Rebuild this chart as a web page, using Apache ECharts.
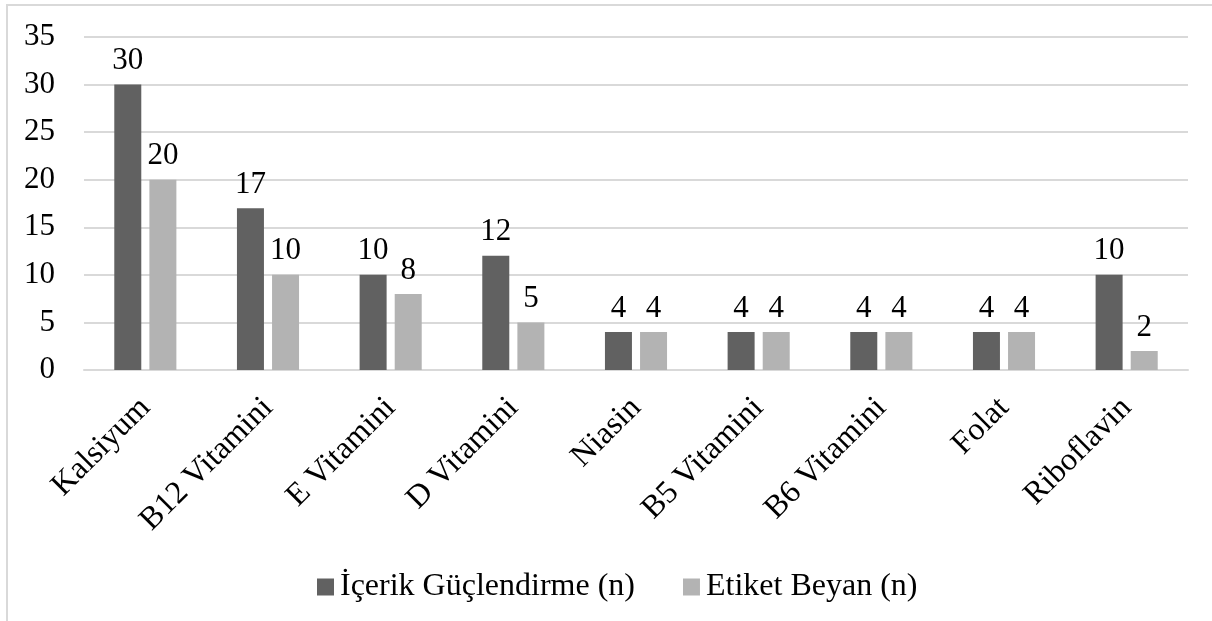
<!DOCTYPE html>
<html>
<head>
<meta charset="utf-8">
<script src="https://cdn.jsdelivr.net/npm/echarts@6/dist/echarts.min.js"></script>
<style>
  html, body { margin: 0; padding: 0; background: #fff; }
  #wrap { position: relative; width: 1212px; height: 621px; overflow: hidden; }
  #frame { position: absolute; left: 6px; top: 4px; right: -10px; bottom: -10px;
           border-left: 2px solid #d9d9d9; border-top: 2px solid #d9d9d9; pointer-events: none; }
  #main { position: absolute; left: 0; top: 0; width: 1212px; height: 621px; }
</style>
</head>
<body>
<div id="wrap">
  <div id="main"></div>
  <div id="frame"></div>
</div>
<script>
// kategoriler ve seriler
const categories = ['Kalsiyum', 'B12 Vitamini', 'E Vitamini', 'D Vitamini', 'Niasin',
  'B5 Vitamini', 'B6 Vitamini', 'Folat', 'Riboflavin'];
const icerikGuclendirme = [30, 17, 10, 12, 4, 4, 4, 4, 10];
const etiketBeyan = [20, 10, 8, 5, 4, 4, 4, 4, 2];
const seriesNames = ['İçerik Güçlendirme (n)', 'Etiket Beyan (n)'];

const font = '"Liberation Serif", "DejaVu Serif", serif';

var myChart = echarts.init(document.getElementById('main'));

const option = {
  animation: false,
  textStyle: { fontFamily: font, color: '#000' },
  grid: { left: 84, right: 24, top: 37, bottom: 251, containLabel: false },
  legend: {
    top: 566,
    left: 312,
    itemWidth: 17,
    itemHeight: 17,
    itemGap: 48,
    icon: 'rect',
    textStyle: { fontFamily: font, fontSize: 32, color: '#000', padding: [0, 0, 0, 1] },
    data: seriesNames
  },
  xAxis: {
    type: 'category',
    data: categories,
    axisLine: { lineStyle: { color: '#d9d9d9', width: 2 } },
    axisTick: { show: false },
    axisLabel: {
      interval: 0,
      rotate: 45,
      margin: 33,
      fontFamily: font,
      fontSize: 32,
      color: '#000'
    }
  },
  yAxis: {
    type: 'value',
    min: 0,
    max: 35,
    interval: 5,
    axisLine: { show: false },
    axisTick: { show: false },
    splitLine: { lineStyle: { color: '#d9d9d9', width: 2 } },
    axisLabel: { margin: 29, fontFamily: font, fontSize: 31, color: '#000' }
  },
  series: [
    {
      name: seriesNames[0],
      type: 'bar',
      data: icerikGuclendirme,
      barWidth: 27,
      barGap: '30%',
      itemStyle: { color: '#616161' },
      label: { show: true, position: 'top', distance: 8, fontFamily: font, fontSize: 31, color: '#000' }
    },
    {
      name: seriesNames[1],
      type: 'bar',
      data: etiketBeyan,
      barWidth: 27,
      barGap: '30%',
      itemStyle: { color: '#b3b3b3' },
      label: { show: true, position: 'top', distance: 8, fontFamily: font, fontSize: 31, color: '#000' }
    }
  ]
};

myChart.setOption(option);
</script>
</body>
</html>
